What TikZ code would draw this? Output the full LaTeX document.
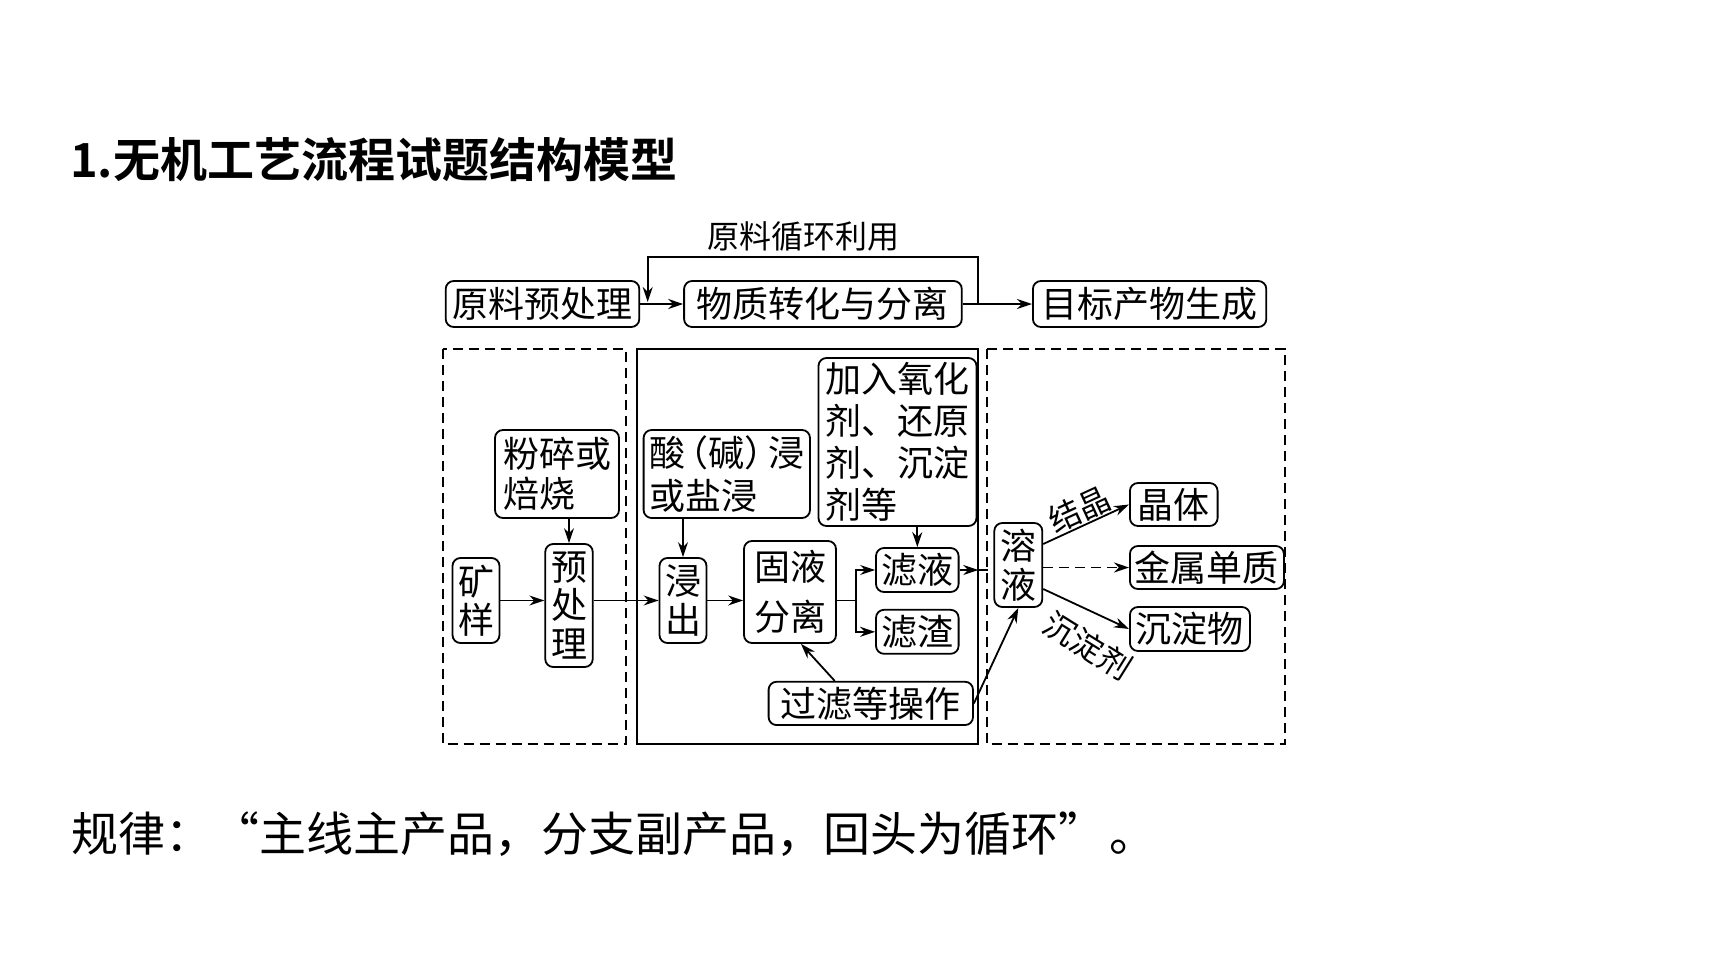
\documentclass[tikz,border=0pt]{standalone}
\usepackage{fontspec}
\setmainfont{Noto Sans CJK SC}[BoldFont={Noto Sans CJK SC Bold}]
\usetikzlibrary{positioning,arrows.meta}
\tikzset{
	box/.style={draw, rounded corners=8pt, line width=1.8pt, inner sep=0pt, align=center, font=\fontsize{36pt}{40pt}\selectfont},
	stackbox/.style={box, font=\fontsize{36pt}{38.5pt}\selectfont},
	arr/.style={-{Stealth[length=15pt,width=10pt]}, line width=1.8pt},
	tag/.style={inner sep=1pt, font=\fontsize{32pt}{34pt}\selectfont},
	dashline/.style={line width=1.8pt, dash pattern=on 10pt off 6pt},
	dashframe/.style={line width=1.8pt, dash pattern=on 10pt off 6pt},
	solidframe/.style={line width=1.8pt}
}
\begin{document}
\begin{tikzpicture}[x=1pt,y=-1pt]
				\useasboundingbox (0,0) rectangle (1728,972);
				\node[anchor=west, inner sep=0pt, font=\fontsize{47pt}{50pt}\selectfont\bfseries] (title) at (70,160) {1.无机工艺流程试题结构模型};
				\node[box, minimum width=193.6pt, minimum height=46pt] (pre) at (542.5,304) {原料预处理};
				\node[box, minimum width=277.7pt, minimum height=46pt, right=43pt of pre] (mid) {物质转化与分离};
				\node[box, minimum width=233.4pt, minimum height=46pt, right=69.3pt of mid] (goal) {目标产物生成};
				\node[tag] (looptag) at (803,236) {原料循环利用};
				\coordinate (loopout) at (978.3,304);
				\coordinate (loopin) at (647.7,302);
				\draw[arr] (pre) -- (mid);
				\draw[arr] (mid) -- (goal);
				\draw[arr] (loopout) -- ++(0,-47.3) -| (loopin);
				\draw[dashframe] (442.7,349) rectangle (625.7,744);
				\draw[solidframe] (637,349) rectangle (978.3,744);
				\draw[dashframe] (986.7,349) rectangle (1285,744);
				\node[stackbox, minimum width=47pt, minimum height=85pt] (ore) at (476,600.5) {矿\\样};
				\node[stackbox, minimum width=47.5pt, minimum height=123pt] (prep) at (569,605.5) {预\\处\\理};
				\node[box, align=left, minimum width=124pt, minimum height=88pt] (crush) at (557,474) {粉碎或\\焙烧};
				\node[stackbox, minimum width=47pt, minimum height=85pt] (leach) at (683,600.5) {浸\\出};
				\node[box, align=left, minimum width=166.4pt, minimum height=88pt, font=\fontsize{36pt}{43pt}\selectfont] (acid) at (726.8,474) {酸\kern-.35em（碱）\kern-.35em浸\\或盐浸};
				\node[box, align=left, minimum width=158pt, minimum height=168pt, font=\fontsize{36pt}{42pt}\selectfont] (reag) at (897.5,442) {加入氧化\\剂、还原\\剂、沉淀\\剂等};
				\node[box, minimum width=92pt, minimum height=102pt, font=\fontsize{36pt}{50pt}\selectfont] (sep) at (790,592) {固液\\分离};
				\node[box, minimum width=82.6pt, minimum height=44pt] (filtrate) at (917.3,570) {滤液};
				\node[box, minimum width=82.6pt, minimum height=44pt, below=16pt of filtrate] (residue) {滤渣};
				\node[box, minimum width=204.4pt, minimum height=43.3pt] (filter) at (870.8,703.4) {过滤等操作};
				\node[stackbox, minimum width=48pt, minimum height=84pt] (solution) at (1018.3,565) {溶\\液};
				\node[box, anchor=west, minimum width=87.7pt, minimum height=43pt] (crystal) at (1129,504.5) {晶体};
				\node[box, anchor=west, minimum width=154pt, minimum height=43pt] (metal) at (1129,567.5) {金属单质};
				\node[box, anchor=west, minimum width=120pt, minimum height=44pt] (precip) at (1129,629) {沉淀物};
				\node[tag, rotate=-32] (precipreag) at (1088,646) {沉淀剂};
				\coordinate (gate) at (978.3,570);
				\draw[arr] (ore) -- (ore -| prep.west);
				\draw[arr] (prep.east |- leach) -- (leach.west);
				\draw[arr] (crush.south -| prep) -- (prep.north);
				\draw[arr] (acid.south -| leach) -- (leach.north);
				\draw[arr] (leach) -- (leach -| sep.west);
				\draw[line width=1.8pt] (sep.east |- leach) -- ++(19,0) coordinate (split);
				\draw[arr] (split) |- (filtrate);
				\draw[arr] (split) |- (residue);
				\draw[arr] (reag.south -| filtrate) -- (filtrate.north);
				\draw[arr] ([xshift=67pt]filter.north west) -- ([xshift=11pt]sep.south);
				\draw[arr] (filtrate) -- (gate);
				\draw[dashline] (gate) -- (gate -| solution.west);
				\draw[arr] ([yshift=21pt]solution.east) -- (crystal.west) node[midway, sloped, above, tag] {结晶};
				\draw[arr, dashline] (solution.east |- metal) -- (metal.west);
				\draw[arr] ([yshift=-24pt]solution.east) -- (precip.west);
				\draw[arr] (filter.east) -- (solution.south);
				\node[anchor=west, inner sep=0pt, font=\fontsize{47pt}{50pt}\selectfont] (rule) at (71,834) {规律：“主线主产品，分支副产品，回头为循环”\kern4pt。};
			\end{tikzpicture}
\end{document}
